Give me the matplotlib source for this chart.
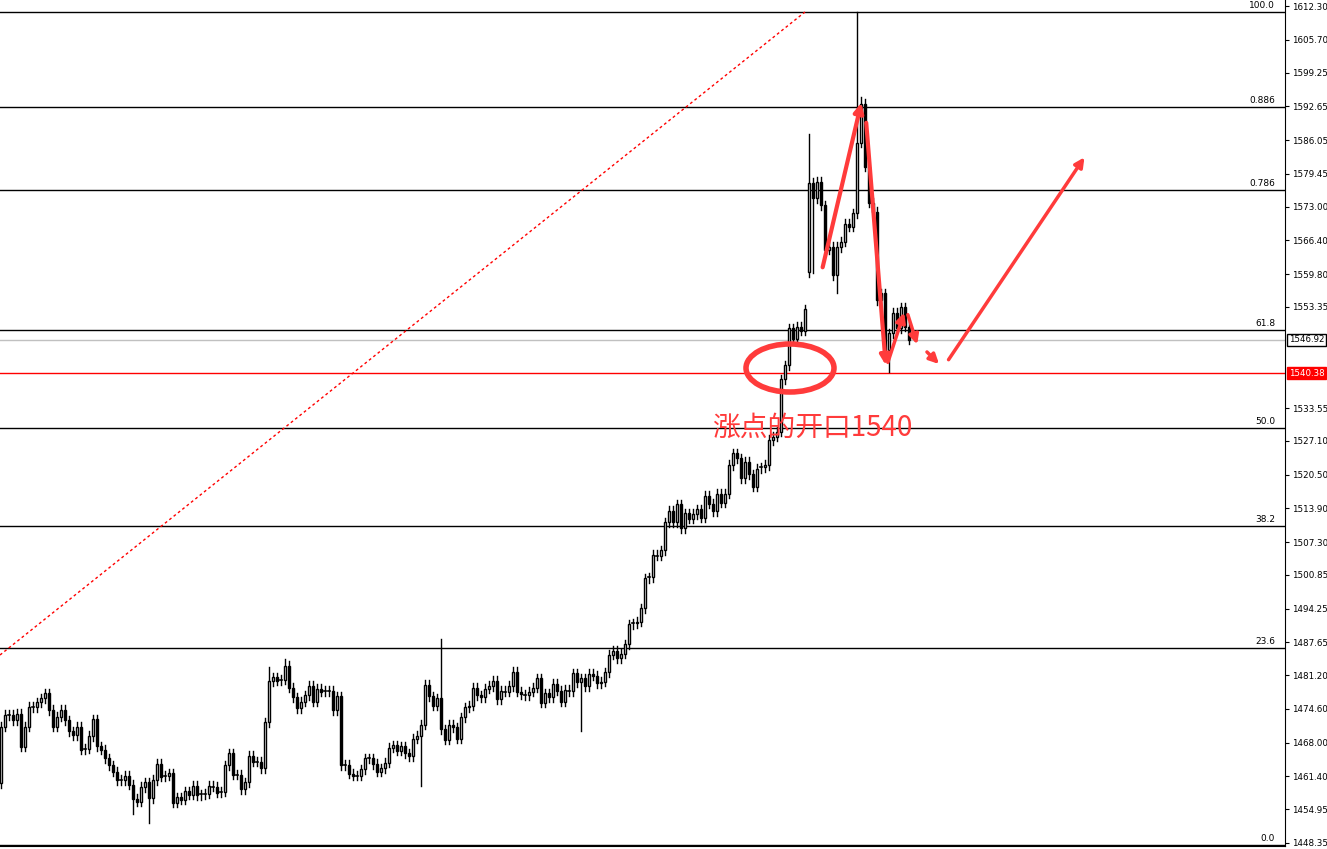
import matplotlib
matplotlib.use("Agg")
import matplotlib.pyplot as plt
from matplotlib.patches import Ellipse, Rectangle

plt.rcParams['font.family'] = ['Noto Sans CJK SC', 'DejaVu Sans']

closes = [
1471.1,1473.4,1473.5,1472.4,1473.7,1467.2,1471.1,1475.0,1475.0,1475.9,1476.7,1477.7,1474.4,1471.1,1473.1,1474.4,1472.4,1470.2,1469.5,1471.1,
1466.6,1466.8,1469.3,1472.6,1467.3,1466.6,1464.9,1463.6,1462.3,1460.7,1460.7,1461.5,1459.8,1457.0,1456.4,1459.3,1460.2,1457.1,1460.7,1463.8,
1461.3,1461.5,1462.0,1456.2,1457.3,1456.8,1458.5,1457.8,1459.5,1457.7,1457.9,1458.0,1459.5,1459.4,1458.2,1458.4,1463.6,1465.9,1461.7,1461.7,
1458.9,1460.2,1465.4,1464.3,1464.3,1463.0,1472.0,1480.0,1480.8,1480.1,1480.3,1483.0,1478.8,1476.9,1474.7,1476.0,1477.3,1479.1,1476.0,1478.5,
1478.0,1478.1,1478.1,
1474.4,1477.1,1463.6,1463.7,1461.9,1461.5,1461.5,1462.8,1464.9,1464.9,1463.8,1462.3,1463.0,1464.1,1467.0,1467.5,1466.4,1467.3,1465.9,1465.3,
1468.8,1469.3,1471.5,1479.3,1477.1,1475.2,1476.7,1470.6,1468.6,1471.5,1471.0,1468.8,1473.0,1474.9,1475.2,1478.8,1477.3,1476.9,1478.6,1479.1,
1480.1,1476.5,1478.1,1478.0,1479.1,1481.9,1478.0,1477.5,1477.3,1478.0,1478.8,1480.6,1475.8,1477.7,1476.9,1479.5,1478.2,1476.0,1478.3,1478.1,
1481.6,1479.8,1480.6,1479.1,1481.5,1481.1,1479.6,1479.9,1481.8,1485.2,1486.0,1484.5,1485.4,1487.3,1491.2,1491.4,1491.7,1494.3,
1500.2,1500.4,1504.8,1504.6,1505.7,1511.2,1513.4,1511.2,1514.7,1510.0,1512.9,1511.9,1512.8,1513.7,1512.1,1516.3,1514.8,1513.3,1516.7,1515.0,
1516.8,1522.4,1524.7,1523.7,1519.8,1523.0,1520.6,1518.1,1521.7,1521.9,1522.4,1527.3,1527.9,1528.9,1539.2,1541.9,1549.2,1547.0,1549.5,1548.7,
1552.9,
1577.7,1574.6,1577.9,1573.3,1564.6,1565.1,1559.6,1565.1,1566.1,1569.6,1569.1,1571.7,1585.5,1593.2,1580.8,1573.8,1572.0,1554.7,1556.0,1545.0,
1548.2,1552.2,1549.2,1553.3,1549.5,1546.9]
first_open = 1460.0
gap_opens = {202: 1560.2}
default_wick = 0.9
special_highs = {110: 1488.4, 202: 1587.2, 214: 1611.2, 215: 1594.5, 67: 1482.8, 71: 1484.3}
special_lows = {37: 1452.2, 33: 1454.0, 105: 1459.5, 145: 1470.3, 203: 1560.0, 209: 1556.0, 222: 1540.6}

fib_levels = [0.0, 23.6, 38.2, 50.0, 61.8, 78.6, 88.6, 100.0]
fib_labels = ["0.0", "23.6", "38.2", "50.0", "61.8", "0.786", "0.886", "100.0"]
fib_low, fib_high = 1448.0, 1611.2
price_ticks = [1612.30,1605.70,1599.25,1592.65,1586.05,1579.45,1573.00,1566.40,1559.80,1553.35,
               1533.55,1527.10,1520.50,1513.90,1507.30,1500.85,1494.25,1487.65,1481.20,1474.60,
               1468.00,1461.40,1454.95,1448.35]
support_price = 1540.38
current_price = 1546.92
annotation = "涨点的开口1540"

W, H = 1327, 849
fig = plt.figure(figsize=(W/100, H/100), dpi=100)
ax = fig.add_axes([0, 3/H, 1285/W, 1 - 3/H])
ymax = 1612.3 + 6/5.105
ymin = 1612.3 - 840/5.105
ax.set_ylim(ymin, ymax)
ax.set_xlim(-0.25, 321)

def px(x):
    return (x - 1) / 4.0
def py(y):
    return 1612.3 - (y - 6) / 5.105

prev = first_open
for i, c in enumerate(closes):
    o = gap_opens.get(i, prev)
    hi = special_highs.get(i, max(o, c) + default_wick)
    lo = special_lows.get(i, min(o, c) - default_wick)
    ax.plot([i, i], [lo, hi], color='black', lw=1, zorder=3)
    bull = c >= o
    b0, b1 = min(o, c), max(o, c)
    if b1 - b0 < 0.25:
        ax.plot([i - 0.35, i + 0.35], [c, c], color='black', lw=1.2, zorder=4)
    else:
        ax.add_patch(Rectangle((i - 0.35, b0), 0.7, b1 - b0, facecolor='white' if bull else 'black',
                               edgecolor='black', lw=1, zorder=4))
    prev = c

for lv, lab in zip(fib_levels, fib_labels):
    p = fib_low + (fib_high - fib_low) * lv / 100.0
    ax.axhline(p, color='black', lw=1, zorder=2)
    ax.text(318.5, p + 0.4, lab, fontsize=6.5, ha='right', va='bottom', family='DejaVu Sans')

ax.axhline(current_price, color='#c0c0c0', lw=1, zorder=2)
ax.axhline(support_price, color='red', lw=1, zorder=2)
ax.plot([px(0), px(805)], [py(655), py(12)], color='red', lw=1, ls=(0, (2, 2)), zorder=2)

red = '#ff3b3b'
arrows = [((822, 270), (862, 100), 3), ((866, 120), (886, 368), 3), ((887, 365), (905, 310), 2.5),
          ((907, 312), (918, 347), 2.5), ((925, 350), (941, 366), 2.5), ((947, 362), (1086, 155), 2.5)]
for (x0, y0), (x1, y1), lw in arrows:
    ax.annotate('', xy=(px(x1), py(y1)), xytext=(px(x0), py(y0)),
                arrowprops=dict(arrowstyle='-|>', color=red, lw=lw, mutation_scale=14), zorder=6)
ax.add_patch(Ellipse((px(790), py(368)), 88/4.0, 48/5.105, fill=False, edgecolor=red, lw=4, zorder=6))
ax.text(px(712), py(428), annotation, color=red, fontsize=20, ha='left', va='center', zorder=6)

ax.set_xticks([])
ax.yaxis.tick_right()
ax.set_yticks(price_ticks)
ax.set_yticklabels([f"{t:.2f}" for t in price_ticks], fontsize=6.3, family='DejaVu Sans')
ax.tick_params(axis='y', length=3, pad=2)
for s in ['top', 'left']:
    ax.spines[s].set_visible(False)
ax.text(1.003, current_price, f"{current_price:.2f}", transform=ax.get_yaxis_transform(), fontsize=6.2,
        va='center', ha='left', family='DejaVu Sans', bbox=dict(facecolor='white', edgecolor='black', pad=1.2))
ax.text(1.003, support_price, f"{support_price:.2f}", transform=ax.get_yaxis_transform(), fontsize=6.2,
        va='center', ha='left', color='white', family='DejaVu Sans', bbox=dict(facecolor='red', edgecolor='red', pad=1.2))

fig.savefig('out.png', dpi=100)
